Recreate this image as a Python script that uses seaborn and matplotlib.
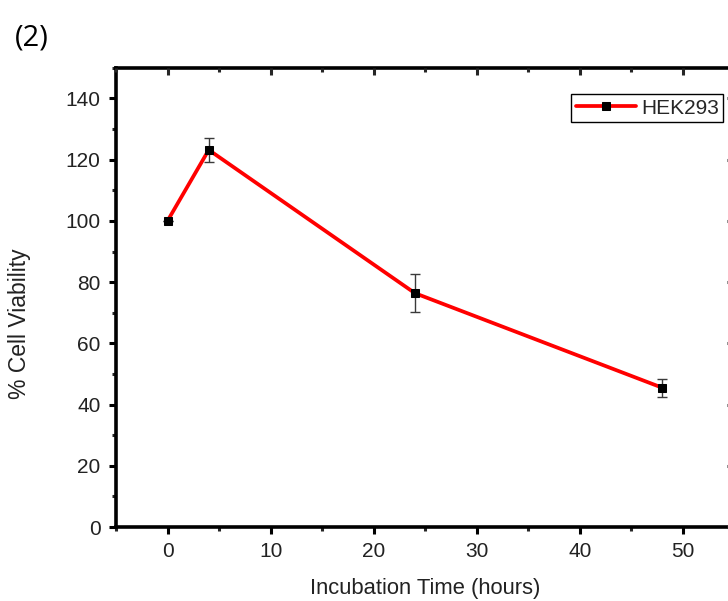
import matplotlib
matplotlib.use("Agg")
import matplotlib.pyplot as plt
from matplotlib.ticker import MultipleLocator
import pandas as pd
import seaborn as sns

# Cell viability of HEK293 over incubation time
hours = [0, 4, 24, 48]
viability = [100.0, 123.2, 76.4, 45.5]
viability_err = [0.0, 4.0, 6.3, 3.0]
series_name = "HEK293"

sns.set_style("ticks")
plt.rcParams["font.family"] = ["Liberation Sans", "DejaVu Sans"]

df = pd.DataFrame({"hours": hours, "viability": viability, "err": viability_err})

fig = plt.figure(figsize=(7.28, 6.01), dpi=100)
ax = fig.add_axes([0.1593, 0.1231, 0.8495, 0.7640])

ax.errorbar(df["hours"], df["viability"], yerr=df["err"], fmt="none",
            ecolor="#3a3a3a", elinewidth=1.0, capsize=3.5, capthick=1.0, zorder=3)
sns.lineplot(data=df, x="hours", y="viability", ax=ax, color="#ff0000",
             linewidth=2.7, marker="s", markersize=5.5, markerfacecolor="black",
             markeredgecolor="black", label=series_name, zorder=4)

xlim = (-5, 55)
ylim = (0, 150)
ax.set_xlim(*xlim)
ax.set_ylim(*ylim)
ax.xaxis.set_major_locator(MultipleLocator(10))
ax.xaxis.set_minor_locator(MultipleLocator(5))
ax.set_yticks([0, 20, 40, 60, 80, 100, 120, 140])
ax.yaxis.set_minor_locator(MultipleLocator(10))

for s in ax.spines.values():
    s.set_visible(True)
    s.set_linewidth(2.6)
    s.set_color("black")

ax.tick_params(axis="both", which="major", direction="out", length=5, width=2.2,
               labelsize=15, colors="black", labelcolor="#222222")
ax.tick_params(axis="x", which="major", pad=6)
ax.tick_params(axis="y", which="major", pad=6)
ax.tick_params(axis="both", which="minor", direction="out", length=3, width=2.2)
ax.tick_params(axis="both", which="both", top=False, right=False)

# Inward ticks along the top and right edges
ax_top = ax.twiny()
ax_top.set_xlim(*xlim)
ax_top.xaxis.set_major_locator(MultipleLocator(10))
ax_top.xaxis.set_minor_locator(MultipleLocator(5))
ax_top.tick_params(axis="x", which="major", direction="in", length=5, width=2.2, labeltop=False)
ax_top.tick_params(axis="x", which="minor", direction="in", length=3, width=2.2)
for s in ax_top.spines.values():
    s.set_visible(False)

ax_right = ax.twinx()
ax_right.set_ylim(*ylim)
ax_right.yaxis.set_major_locator(MultipleLocator(20))
ax_right.yaxis.set_minor_locator(MultipleLocator(10))
ax_right.tick_params(axis="y", which="major", direction="in", length=5, width=2.2, labelright=False)
ax_right.tick_params(axis="y", which="minor", direction="in", length=3, width=2.2)
for s in ax_right.spines.values():
    s.set_visible(False)

ax.set_xlabel("Incubation Time (hours)", fontsize=15.8, color="#222222", labelpad=12)
ax.set_ylabel("% Cell Viability", fontsize=16.5, color="#222222")
ax.yaxis.set_label_coords(-0.137, 0.442)

leg = ax.legend(loc="upper right", bbox_to_anchor=(0.982, 0.942), fontsize=15,
                frameon=True, fancybox=False, edgecolor="black", framealpha=1,
                handlelength=2.9, borderpad=0.2, handletextpad=0.25,
                borderaxespad=0.0)
leg.get_frame().set_linewidth(1.0)

fig.text(0.02, 0.925, "(2)", fontsize=21, family=["Open Sans", "DejaVu Sans"],
         color="black")

fig.savefig("out.png", dpi=100)
